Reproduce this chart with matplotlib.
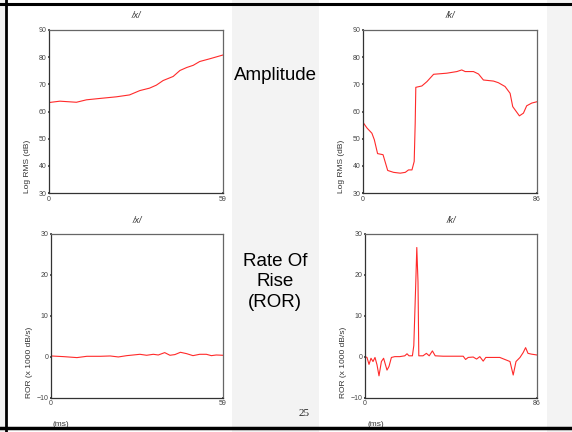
import matplotlib as mpl
import matplotlib.pyplot as plt
from matplotlib.patches import Rectangle
from matplotlib.lines import Line2D

mpl.rcParams['font.family'] = ['Liberation Sans', 'DejaVu Sans']

# amplitude /x/ (ms, dB)
x_amp_t = [0, 3.7, 9.3, 12.7, 17.2, 22.8, 27.3, 30.8, 34.1, 36.4, 38.7, 42.1,
           44.4, 46.7, 48.9, 51.1, 54.5, 59]
x_amp = [63.3, 63.8, 63.4, 64.3, 64.8, 65.4, 66.1, 67.7, 68.6, 69.7, 71.4, 72.9,
         75.1, 76.2, 77.0, 78.4, 79.4, 80.8]

# amplitude /k/
k_amp_t = [0, 2.0, 4.4, 5.6, 7.2, 9.9, 12.2, 15.1, 18.4, 20.9, 22.5, 24.2, 25.3,
           25.8, 26.1, 29.1, 31.6, 34.9, 41.4, 46.4, 48.8, 50.5, 54.6, 57.1, 59.5,
           64.5, 66.9, 70.2, 72.7, 74.0, 77.3, 79.3, 80.9, 83.4, 86]
k_amp = [56.0, 53.9, 52.0, 49.6, 44.5, 44.1, 38.3, 37.6, 37.3, 37.6, 38.5, 38.5,
         41.6, 55.7, 68.9, 69.4, 71.0, 73.7, 74.1, 74.7, 75.3, 74.7, 74.7, 73.8,
         71.6, 71.2, 70.6, 69.2, 66.7, 61.8, 58.4, 59.4, 62.1, 63.1, 63.6]

# rate of rise /x/ (x 1000 dB/s)
x_ror_t = [0, 4.3, 8.9, 12.3, 16.9, 20.3, 23.1, 26.0, 28.2, 30.5, 32.8, 35.1,
           36.8, 39.0, 40.8, 42.5, 44.4, 46.5, 48.7, 51.0, 53.3, 55.0, 56.7, 59]
x_ror = [0.16, 0.0, -0.24, 0.08, 0.08, 0.16, -0.08, 0.24, 0.4, 0.57, 0.33, 0.57,
         0.4, 0.98, 0.33, 0.5, 1.06, 0.73, 0.24, 0.57, 0.57, 0.24, 0.4, 0.33]

# rate of rise /k/
k_ror_t = [0, 1.0, 2.0, 3.0, 4.0, 5.0, 6.0, 7.0, 8.2, 9.3, 11.0, 12.0, 13.2, 14.9,
           17.4, 19.9, 21.0, 22.0, 23.7, 24.4, 25.4, 25.9, 26.2, 26.5, 26.9, 29.0,
           30.7, 32.1, 33.7, 35.1, 39.1, 49.1, 50.3, 51.6, 54.1, 55.8, 57.4, 59.1,
           60.4, 67.4, 72.5, 74.1, 75.5, 77.5, 79.1, 80.3, 81.5, 83.3, 86]
k_ror = [0, -0.2, -1.9, -0.4, -1.2, -0.2, -2.0, -4.7, -1.2, -0.4, -3.3, -2.4, -0.2,
         0, 0, 0.2, 0.7, 0.2, 0.2, 2.7, 18.3, 26.7, 22.4, 18.3, 0.2, 0.2, 0.8, 0.2,
         1.4, 0.2, 0.1, 0.1, -0.7, -0.2, -0.1, -0.6, 0, -1.1, -0.2, -0.2, -1.2, -4.5,
         -1.2, -0.2, 1.0, 2.2, 0.8, 0.6, 0.4]

W, H = 572, 432
fig = plt.figure(figsize=(W / 100, H / 100), dpi=100)
fig.patch.set_facecolor('#f3f3f3')


def px(x0, y0, x1, y1):
    # pixel box -> figure fraction rect
    return [x0 / W, 1 - y1 / H, (x1 - x0) / W, (y1 - y0) / H]


# white panels behind the plots
for x0, x1 in [(7, 232), (319, 547)]:
    fig.patches.append(Rectangle((x0 / W, 0), (x1 - x0) / W, 1, transform=fig.transFigure,
                                 facecolor='white', edgecolor='none', zorder=-5))

# slide border
for xs, ys, lw in [([0, 1], [1 - 3.5 / H] * 2, 2.2), ([6 / W] * 2, [0, 1], 2.0),
                   ([0, 1], [4 / H] * 2, 2.5)]:
    fig.lines.append(Line2D(xs, ys, transform=fig.transFigure, color='black', lw=lw,
                            zorder=10))


def panel(rect, t, y, xmax, ylim, yticks, title, ylabel, title_y):
    ax = fig.add_axes(rect)
    ax.plot(t, y, color='#ff2a2a', lw=0.8)
    ax.set_xlim(0, xmax)
    ax.set_ylim(*ylim)
    ax.set_xticks([0, xmax])
    ax.set_yticks(yticks)
    ax.tick_params(labelsize=5, colors='#444444', length=2, width=1.2, pad=1,
                   direction='inout')
    for s in ['top', 'right']:
        ax.spines[s].set_color('#666666')
        ax.spines[s].set_linewidth(0.9)
    for s in ['left', 'bottom']:
        ax.spines[s].set_color('#333333')
        ax.spines[s].set_linewidth(0.9)
    ax.set_ylabel(ylabel, fontsize=6, color='#333333', loc='bottom')
    ax.yaxis.set_label_coords(-0.105, 0)
    fig.text(rect[0] + rect[2] / 2, 1 - title_y / H, title, fontsize=6.5, style='italic',
             ha='center', va='center', color='#333333')
    return ax


panel(px(49, 30, 223, 193), x_amp_t, x_amp, 59, (30, 90), range(30, 91, 10),
      '/x/', 'Log RMS (dB)', 16)
panel(px(363, 30, 537, 193), k_amp_t, k_amp, 86, (30, 90), range(30, 91, 10),
      '/k/', 'Log RMS (dB)', 16)
panel(px(51, 234, 223, 397.5), x_ror_t, x_ror, 59, (-10, 30), range(-10, 31, 10),
      '/x/', 'ROR (x 1000 dB/s)', 220)
panel(px(365, 234, 537, 397.5), k_ror_t, k_ror, 86, (-10, 30), range(-10, 31, 10),
      '/k/', 'ROR (x 1000 dB/s)', 220)

fig.text(275 / W, 1 - 75 / H, 'Amplitude', fontsize=13.5, ha='center', va='center')
fig.text(275 / W, 1 - 282 / H, 'Rate Of\nRise\n(ROR)', fontsize=13.5, ha='center',
         va='center', linespacing=1.3)
fig.text(304 / W, 1 - 414 / H, '25', fontsize=8, family='Liberation Serif',
         ha='center', va='center', color='#222222')
for xm in [61, 376]:
    fig.text(xm / W, 1 - 424 / H, '(ms)', fontsize=6, ha='center', va='center',
             color='#333333')

fig.savefig('out.png', dpi=100, facecolor=fig.get_facecolor())
